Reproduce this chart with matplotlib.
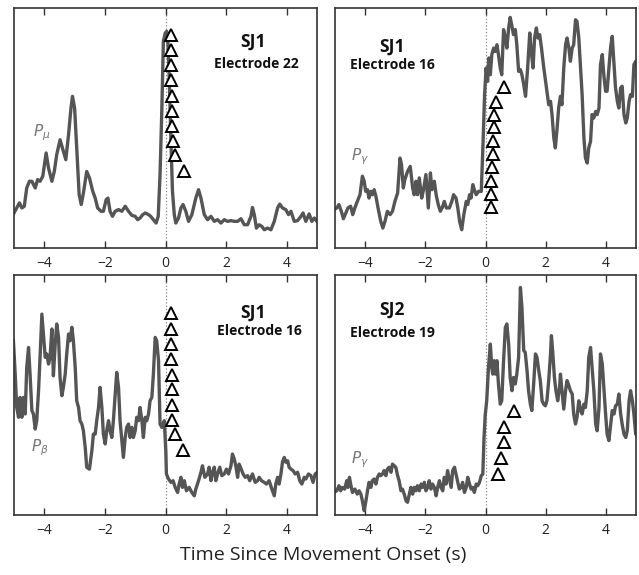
import numpy as np
import matplotlib
matplotlib.use('Agg')
import matplotlib.pyplot as pp

pp.rcParams['font.family'] = ['Open Sans', 'DejaVu Sans']

# ---- panel A: SJ1 electrode 22, P_mu ----
t_a = [-5.0, -4.91, -4.82, -4.74, -4.66, -4.58, -4.49, -4.41, -4.30, -4.22, -4.14, -4.05,
       -3.94, -3.86, -3.75, -3.67, -3.59, -3.48, -3.37, -3.29, -3.20, -3.12, -3.07, -3.00,
       -2.93, -2.85, -2.78, -2.71, -2.60, -2.51, -2.40, -2.32, -2.24, -2.13, -2.05, -1.96,
       -1.90, -1.83, -1.75, -1.66, -1.55, -1.44, -1.33, -1.22, -1.11, -1.00, -0.92, -0.84,
       -0.75, -0.67, -0.56, -0.49, -0.40, -0.31, -0.24, -0.18, -0.12, -0.07, -0.01,
       0.04, 0.07, 0.12, 0.18, 0.23, 0.29, 0.34, 0.43, 0.51, 0.58, 0.67, 0.76, 0.87, 1.00,
       1.09, 1.17, 1.28, 1.39, 1.50, 1.61, 1.72, 1.83, 1.94, 2.05, 2.16, 2.27, 2.38, 2.49,
       2.60, 2.71, 2.82, 2.87, 2.93, 3.00, 3.09, 3.18, 3.26, 3.37, 3.48, 3.59, 3.70, 3.77,
       3.86, 3.97, 4.06, 4.14, 4.25, 4.36, 4.47, 4.54, 4.63, 4.74, 4.83, 4.91, 5.0]
p_a = [14.6, 16.7, 18.8, 16.7, 17.4, 25.0, 27.8, 27.8, 25.0, 28.5, 27.8, 29.9,
       39.6, 33.3, 27.8, 31.9, 38.9, 45.1, 40.3, 36.8, 47.2, 58.3, 63.2, 58.3,
       41.7, 22.2, 18.1, 22.9, 31.9, 29.2, 23.6, 20.8, 16.7, 15.3, 15.3, 20.1,
       20.8, 15.3, 13.2, 15.3, 16.0, 15.3, 17.4, 15.3, 13.6, 13.2, 11.8, 12.5,
       13.9, 14.6, 13.9, 13.2, 11.8, 10.4, 13.2, 30.6, 58.3, 86.1, 89.5,
       90.3, 88.9, 72.2, 44.4, 23.6, 13.9, 10.4, 12.5, 16.7, 18.1, 15.3, 11.1, 13.9, 20.8,
       24.3, 20.8, 13.9, 11.8, 13.2, 11.1, 11.8, 10.4, 11.8, 11.1, 11.4, 11.1, 11.1, 12.2,
       9.7, 9.7, 13.2, 16.9, 13.9, 8.3, 9.7, 9.0, 7.6, 8.3, 7.6, 11.1, 16.7, 18.3,
       16.7, 16.0, 13.9, 15.3, 11.1, 11.4, 13.2, 14.6, 11.1, 14.2, 11.1, 12.5, 11.1]
tri_t_a = [0.17, 0.19, 0.19, 0.19, 0.22, 0.22, 0.22, 0.24, 0.33, 0.60]
tri_p_a = [88.8, 82.5, 76.3, 70.0, 63.3, 57.2, 50.8, 44.7, 38.8, 32.2]

# ---- panel B: SJ1 electrode 16, P_gamma ----
t_b = [-5.03, -4.94, -4.87, -4.79, -4.72, -4.64, -4.57, -4.48, -4.41, -4.34, -4.26, -4.17,
       -4.09, -4.03, -3.98, -3.92, -3.87, -3.81, -3.76, -3.70, -3.64, -3.57, -3.48, -3.41,
       -3.34, -3.26, -3.17, -3.09, -3.01, -2.92, -2.84, -2.79, -2.73, -2.68, -2.59, -2.50,
       -2.42, -2.37, -2.31, -2.26, -2.20, -2.12, -2.06, -1.98, -1.90, -1.83, -1.78, -1.70,
       -1.64, -1.57, -1.50, -1.44, -1.37, -1.30, -1.20, -1.12, -1.06, -0.98, -0.92, -0.86,
       -0.79, -0.72, -0.64, -0.59, -0.53, -0.48, -0.42, -0.37, -0.31, -0.23, -0.14, -0.12,
       -0.08, -0.03, 0.02, 0.07, 0.11, 0.16, 0.21, 0.27, 0.32, 0.38, 0.43, 0.49, 0.54, 0.60,
       0.66, 0.71, 0.77, 0.82, 0.88, 0.93, 0.99, 1.04, 1.10, 1.16, 1.21, 1.27, 1.33, 1.40,
       1.47, 1.52, 1.58, 1.63, 1.69, 1.74, 1.80, 1.86, 1.93, 2.04, 2.10, 2.16, 2.21, 2.27,
       2.32, 2.38, 2.43, 2.49, 2.54, 2.60, 2.66, 2.71, 2.77, 2.82, 2.88, 2.93, 2.99, 3.04,
       3.10, 3.16, 3.21, 3.27, 3.32, 3.38, 3.43, 3.49, 3.54, 3.60, 3.66, 3.71, 3.77, 3.82,
       3.88, 3.93, 3.99, 4.04, 4.10, 4.16, 4.21, 4.27, 4.32, 4.38, 4.43, 4.49, 4.54, 4.60,
       4.66, 4.71, 4.77, 4.82, 4.88, 4.93, 4.99, 5.04]
p_b = [16.0, 16.7, 18.1, 15.3, 12.2, 14.6, 16.7, 17.4, 13.9, 16.7, 19.4, 22.2,
       29.9, 27.8, 23.6, 24.3, 20.8, 23.6, 22.2, 24.3, 21.5, 16.7, 11.1, 8.3,
       11.1, 15.3, 13.9, 15.3, 19.4, 22.9, 37.5, 34.7, 25.0, 28.5, 31.9, 34.0,
       25.0, 22.2, 27.8, 22.2, 29.2, 20.8, 24.3, 30.6, 16.7, 31.3, 24.3, 27.8,
       22.2, 18.1, 15.3, 16.7, 19.4, 16.7, 16.7, 19.4, 22.2, 20.8, 16.7, 11.1,
       7.6, 13.9, 19.4, 18.1, 22.2, 20.8, 26.4, 24.3, 22.2, 23.6, 23.6, 30.6,
       44.4, 63.9, 75.0, 69.4, 79.2, 72.2, 80.6, 83.3, 81.9, 84.7, 80.6, 75.0, 72.2, 91.0,
       87.5, 83.3, 91.7, 96.1, 92.4, 88.9, 91.0, 84.7, 73.6, 74.3, 72.2, 68.1, 63.2, 75.0,
       89.6, 81.9, 75.0, 87.5, 91.7, 87.5, 88.9, 83.3, 75.7, 65.3, 59.7, 61.1, 55.6, 45.8,
       41.7, 50.0, 58.3, 63.2, 59.7, 75.0, 84.7, 87.5, 83.3, 77.8, 83.3, 84.7, 95.1, 94.4,
       87.5, 75.0, 63.9, 45.8, 37.5, 35.4, 41.7, 44.4, 55.6, 54.2, 56.9, 55.6, 58.3, 76.4,
       80.6, 72.2, 65.3, 65.3, 75.0, 84.0, 88.2, 76.4, 66.7, 61.1, 58.3, 66.7, 67.4, 55.6,
       52.1, 54.2, 61.1, 63.9, 63.2, 76.4, 77.8, 75.7]
tri_t_b = [0.18, 0.18, 0.18, 0.21, 0.24, 0.24, 0.27, 0.27, 0.36, 0.62]
tri_p_b = [16.9, 22.5, 28.1, 33.6, 39.2, 44.7, 50.3, 55.6, 60.8, 66.9]

# ---- panel C: SJ1 electrode 16, P_beta ----
t_c = [-5.02, -4.96, -4.91, -4.85, -4.80, -4.74, -4.69, -4.63, -4.58, -4.52, -4.47, -4.41,
       -4.36, -4.30, -4.25, -4.19, -4.14, -4.08, -4.03, -3.97, -3.92, -3.86, -3.81, -3.75,
       -3.70, -3.64, -3.59, -3.53, -3.48, -3.42, -3.37, -3.31, -3.26, -3.20, -3.15, -3.09,
       -3.04, -2.98, -2.93, -2.87, -2.82, -2.76, -2.71, -2.65, -2.60, -2.51, -2.43, -2.38,
       -2.32, -2.27, -2.21, -2.16, -2.10, -2.05, -1.99, -1.94, -1.88, -1.83, -1.77, -1.72,
       -1.66, -1.61, -1.55, -1.50, -1.44, -1.39, -1.33, -1.28, -1.22, -1.17, -1.11, -1.06,
       -1.00, -0.95, -0.89, -0.84, -0.78, -0.73, -0.67, -0.62, -0.56, -0.51, -0.45, -0.40,
       -0.34, -0.29, -0.23, -0.18, -0.12, -0.04, 0.01, 0.03, 0.10, 0.18, 0.25, 0.32, 0.40,
       0.45, 0.51, 0.56, 0.62, 0.69, 0.78, 0.87, 0.95, 1.00, 1.09, 1.17, 1.22, 1.30, 1.39,
       1.44, 1.50, 1.55, 1.61, 1.66, 1.72, 1.79, 1.86, 1.94, 2.01, 2.08, 2.16, 2.21, 2.27,
       2.32, 2.38, 2.43, 2.50, 2.56, 2.63, 2.71, 2.78, 2.87, 2.96, 3.04, 3.09, 3.17, 3.26,
       3.33, 3.42, 3.51, 3.59, 3.64, 3.70, 3.75, 3.81, 3.86, 3.92, 3.97, 4.03, 4.08, 4.14,
       4.21, 4.28, 4.36, 4.43, 4.50, 4.58, 4.63, 4.72, 4.80, 4.87, 4.94, 5.02]
p_c = [72.6, 58.7, 44.8, 40.7, 49.0, 40.7, 49.0, 42.1, 61.5, 69.8, 58.7, 43.5,
       42.1, 35.8, 39.3, 51.8, 65.7, 83.7, 75.4, 65.7, 67.1, 62.9, 65.7, 77.5,
       58.0, 71.2, 79.6, 74.0, 57.3, 49.7, 53.2, 58.7, 67.1, 75.4, 72.6, 78.2,
       72.6, 61.5, 47.6, 44.8, 39.3, 37.9, 35.1, 28.2, 19.9, 19.1, 26.8, 33.7,
       33.7, 39.3, 44.8, 53.2, 44.8, 33.7, 29.6, 35.1, 39.3, 35.1, 32.3, 39.3,
       50.4, 59.4, 53.2, 39.3, 31.0, 24.0, 32.3, 36.5, 37.9, 32.3, 36.5, 32.3,
       35.1, 40.7, 39.3, 44.8, 39.3, 32.3, 40.7, 39.3, 42.1, 47.6, 49.0, 58.7,
       74.0, 72.6, 64.3, 37.9, 36.5, 39.3, 26.8, 17.1, 15.0, 13.6, 14.3, 11.5, 9.4,
       12.9, 15.7, 11.5, 14.3, 10.1, 11.5, 9.4, 8.0, 10.8, 14.3, 17.8, 20.5, 15.7, 17.1,
       19.9, 14.3, 17.8, 19.9, 14.3, 17.1, 19.9, 16.4, 17.1, 19.1, 17.1, 20.5, 25.4, 23.3,
       20.5, 15.7, 21.2, 19.1, 17.1, 15.7, 16.4, 14.3, 17.1, 13.6, 14.3, 15.7, 14.3, 13.6,
       12.9, 14.3, 10.8, 8.0, 12.9, 15.7, 12.9, 17.1, 22.0, 24.0, 22.0, 22.6, 19.9, 19.1,
       18.5, 17.1, 17.8, 14.3, 12.9, 15.7, 15.0, 17.1, 16.4, 13.6, 17.1, 17.8]
tri_t_c = [0.17, 0.17, 0.17, 0.19, 0.21, 0.21, 0.21, 0.22, 0.33, 0.59]
tri_p_c = [84.0, 77.4, 71.3, 64.9, 58.3, 52.4, 45.8, 39.6, 33.6, 27.1]

# ---- panel D: SJ2 electrode 19, P_gamma ----
t_d = [-5.03, -4.94, -4.87, -4.81, -4.76, -4.68, -4.61, -4.57, -4.52, -4.48, -4.42, -4.34,
       -4.26, -4.20, -4.14, -4.09, -4.03, -3.98, -3.92, -3.87, -3.81, -3.76, -3.70, -3.64,
       -3.59, -3.53, -3.48, -3.42, -3.37, -3.31, -3.26, -3.20, -3.14, -3.09, -3.03, -2.98,
       -2.92, -2.87, -2.81, -2.76, -2.70, -2.64, -2.59, -2.53, -2.48, -2.42, -2.37, -2.31,
       -2.26, -2.20, -2.14, -2.09, -2.03, -1.98, -1.92, -1.87, -1.81, -1.76, -1.70, -1.64,
       -1.59, -1.53, -1.48, -1.42, -1.37, -1.31, -1.26, -1.20, -1.14, -1.09, -1.03, -0.98,
       -0.92, -0.87, -0.81, -0.76, -0.70, -0.64, -0.59, -0.53, -0.48, -0.42, -0.37, -0.31,
       -0.26, -0.20, -0.14, -0.09, -0.05, -0.01, 0.04, 0.10, 0.16, 0.21, 0.24, 0.29, 0.33,
       0.38, 0.43, 0.49, 0.54, 0.60, 0.66, 0.71, 0.77, 0.82, 0.88, 0.93, 0.99, 1.04, 1.10,
       1.16, 1.21, 1.27, 1.32, 1.38, 1.43, 1.49, 1.54, 1.60, 1.66, 1.71, 1.77, 1.82, 1.88,
       1.93, 1.99, 2.04, 2.10, 2.16, 2.19, 2.23, 2.29, 2.34, 2.40, 2.46, 2.49, 2.54, 2.60,
       2.66, 2.71, 2.77, 2.82, 2.88, 2.93, 2.99, 3.04, 3.10, 3.16, 3.21, 3.27, 3.32, 3.38,
       3.43, 3.49, 3.54, 3.60, 3.66, 3.71, 3.77, 3.82, 3.88, 3.93, 3.99, 4.04, 4.10, 4.16,
       4.21, 4.27, 4.32, 4.38, 4.43, 4.49, 4.54, 4.60, 4.66, 4.71, 4.77, 4.82, 4.88, 4.93,
       4.99, 5.04]
p_d = [9.4, 10.1, 12.2, 10.1, 11.5, 10.8, 14.3, 11.5, 15.7, 12.9, 9.4, 10.8,
       8.7, 10.1, 8.7, 5.9, 1.8, 5.3, 10.1, 13.6, 11.5, 14.3, 15.0, 12.9,
       15.7, 17.1, 16.4, 17.1, 18.5, 16.4, 19.1, 19.9, 17.8, 21.2, 20.5, 19.9,
       16.4, 14.3, 10.1, 10.8, 8.7, 5.9, 5.3, 8.7, 11.5, 8.7, 11.5, 10.1,
       12.2, 10.1, 12.9, 11.5, 13.6, 10.1, 11.5, 14.3, 10.8, 12.9, 11.5, 8.0,
       11.5, 14.3, 11.5, 10.1, 15.7, 12.9, 18.5, 15.0, 11.5, 18.5, 19.9, 17.1,
       13.6, 10.8, 11.5, 13.6, 9.4, 11.5, 15.7, 12.9, 10.8, 11.5, 9.4, 12.9,
       12.2, 13.6, 16.4, 17.0, 32.0, 41.5, 47.6, 61.5, 71.2, 61.5, 58.7, 64.3, 58.7,
       64.3, 54.6, 46.2, 47.6, 64.3, 78.2, 79.6, 71.2, 57.3, 51.8, 57.3, 54.6, 58.7, 65.7,
       94.8, 86.5, 68.5, 67.8, 60.1, 51.8, 46.2, 43.5, 54.6, 67.1, 65.7, 60.1, 56.0, 47.6,
       46.2, 45.5, 47.6, 56.0, 67.1, 74.7, 68.5, 57.3, 51.8, 47.6, 53.2, 58.7, 51.8, 44.1,
       51.8, 56.0, 53.9, 51.8, 50.4, 42.1, 37.9, 40.7, 47.6, 43.5, 42.1, 46.2, 44.8, 51.8,
       65.7, 69.8, 61.5, 51.8, 37.9, 35.1, 44.8, 67.1, 62.9, 53.2, 42.1, 33.7, 31.0, 37.9,
       43.5, 42.1, 45.5, 46.2, 50.4, 42.1, 37.9, 33.7, 32.3, 35.1, 47.6, 51.8, 47.6, 42.1,
       33.7, 33.0]
tri_t_d = [0.40, 0.51, 0.62, 0.62, 0.96]
tri_p_d = [17.1, 23.7, 30.3, 36.5, 43.2]

panels = [
    # (left, bottom, width, height), t, p, tri_t, tri_p, subject, electrode, label pos, power label
    ([14/639, 327/575, 303/639, 240/575], t_a, p_a, tri_t_a, tri_p_a,
     'SJ1', 'Electrode 22', (0.79, 0.858), (0.80, 0.765), r'$P_{\mu}$', (0.09, 0.48)),
    ([335/639, 327/575, 301/639, 240/575], t_b, p_b, tri_t_b, tri_p_b,
     'SJ1', 'Electrode 16', (0.19, 0.84), (0.19, 0.762), r'$P_{\gamma}$', (0.083, 0.38)),
    ([14/639, 60/575, 303/639, 240/575], t_c, p_c, tri_t_c, tri_p_c,
     'SJ1', 'Electrode 16', (0.79, 0.843), (0.81, 0.765), r'$P_{\beta}$', (0.086, 0.28)),
    ([335/639, 60/575, 301/639, 240/575], t_d, p_d, tri_t_d, tri_p_d,
     'SJ2', 'Electrode 19', (0.19, 0.856), (0.19, 0.758), r'$P_{\gamma}$', (0.083, 0.23)),
]

fig = pp.figure(figsize=(6.39, 5.75), dpi=100)

for rect, t, p, tt, tp, subj, elec, spos, epos, plab, ppos in panels:
    ax = fig.add_axes(rect)
    ax.plot(t, p, color='#555555', lw=2.4, solid_joinstyle='round', zorder=2)
    ax.axvline(0, color='#888888', lw=0.9, ls=':', zorder=1)
    ax.plot(tt, tp, ls='none', marker='^', ms=8.5, mfc='white', mec='black', mew=1.4, zorder=3)
    ax.set_xlim(-5, 5)
    ax.set_ylim(0, 100)
    ax.set_xticks([-4, -2, 0, 2, 4])
    ax.set_xticklabels(['\u22124', '\u22122', '0', '2', '4'])
    ax.set_yticks([])
    ax.tick_params(axis='x', direction='in', top=True, bottom=True, length=5,
                   width=1, color='#333333', labelsize=10, pad=6, labelcolor='#222222')
    for s in ax.spines.values():
        s.set_color('#333333')
        s.set_linewidth(1.2)
    ax.text(spos[0], spos[1], subj, transform=ax.transAxes, ha='center', va='center',
            fontsize=12.5, fontweight='bold', color='#111111')
    ax.text(epos[0], epos[1], elec, transform=ax.transAxes, ha='center', va='center',
            fontsize=10, fontweight='bold', color='#111111')
    ax.text(ppos[0], ppos[1], plab, transform=ax.transAxes, ha='center', va='center',
            fontsize=11, color='#777777')

fig.text(0.506, 0.035, 'Time Since Movement Onset (s)', ha='center', va='center',
         fontsize=14, color='#222222')

pp.savefig('out.png', dpi=100)
